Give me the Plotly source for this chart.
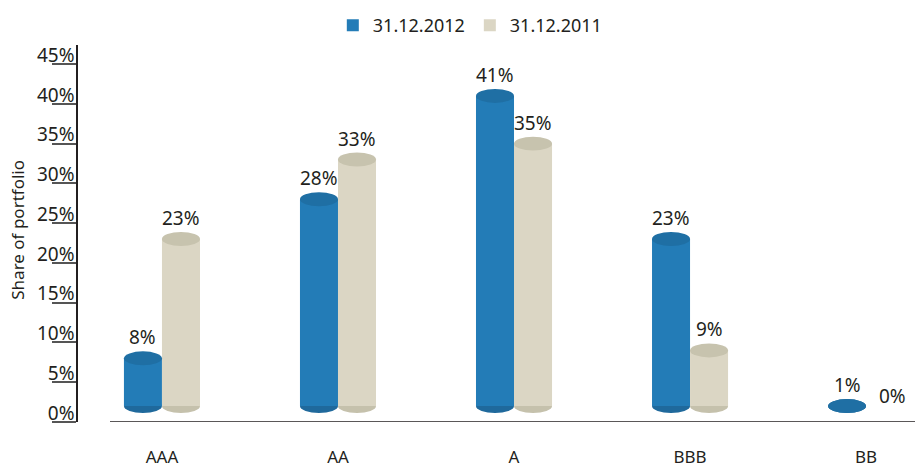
import plotly.graph_objects as go

categories = ["AAA", "AA", "A", "BBB", "BB"]
series_names = ["31.12.2012", "31.12.2011"]
values_2012 = [8, 28, 41, 23, 1]
values_2011 = [23, 33, 35, 9, 0]
y_tick_vals = [0, 5, 10, 15, 20, 25, 30, 35, 40, 45]
y_tick_text = [f"{v}%" for v in y_tick_vals]

body_colors = ["#237cb7", "#dbd6c4"]
top_colors = ["#1f6fa4", "#c7c3ae"]
bottom_colors = ["#1f699c", "#c5c1ac"]

FONT = "Noto Sans"
BAR_W = 0.216
BASE = 2.0
ELL_H = 1.76
Y_RANGE = [0, 47.4]
X_RANGE = [-0.477, 4.278]

fig = go.Figure()
shapes = []
annotations = []

for s, (name, vals) in enumerate(zip(series_names, [values_2012, values_2011])):
    offset = (-0.5 + s) * BAR_W
    xs = [i + offset for i in range(len(categories))]
    heights = [max(v - BASE, 0) for v in vals]
    fig.add_trace(go.Bar(
        x=xs, y=heights, base=[BASE] * len(vals), width=BAR_W,
        name=name, marker=dict(color=body_colors[s], line=dict(width=0)),
        hoverinfo="skip",
    ))
    for x, v in zip(xs, vals):
        if v > 0:
            top = max(v, BASE)
            shapes.append(dict(type="circle", xref="x", yref="y", layer="below",
                               x0=x - BAR_W / 2, x1=x + BAR_W / 2,
                               y0=BASE - ELL_H / 2, y1=BASE + ELL_H / 2,
                               fillcolor=bottom_colors[s], line=dict(width=0)))
            shapes.append(dict(type="circle", xref="x", yref="y", layer="above",
                               x0=x - BAR_W / 2, x1=x + BAR_W / 2,
                               y0=top - ELL_H / 2, y1=top + ELL_H / 2,
                               fillcolor=top_colors[s], line=dict(width=0)))
            annotations.append(dict(x=x, y=top + ELL_H / 2, xref="x", yref="y",
                                    text=f"{v}%", showarrow=False, yanchor="bottom",
                                    yshift=-1, font=dict(family=FONT, size=19, color="#231f20")))
        else:
            annotations.append(dict(x=x + 0.04, y=BASE - ELL_H / 2, xref="x", yref="y",
                                    text=f"{v}%", showarrow=False, yanchor="bottom",
                                    yshift=2, font=dict(family=FONT, size=19, color="#231f20")))

# x axis baseline
shapes.append(dict(type="line", xref="paper", yref="y", x0=(110 - 78) / 837, x1=1,
                   y0=0, y1=0, line=dict(color="#231f20", width=1.5), layer="above"))

# y axis title
annotations.append(dict(text="Share of portfolio", xref="paper", yref="paper",
                        x=-(78 - 18) / 837, y=0.51, xanchor="center", yanchor="middle",
                        textangle=-90, showarrow=False,
                        font=dict(family=FONT, size=17, color="#231f20")))

fig.update_layout(
    width=915, height=465,
    margin=dict(l=78, r=0, t=45, b=43, autoexpand=False),
    paper_bgcolor="white", plot_bgcolor="white",
    barmode="overlay",
    showlegend=True,
    legend=dict(orientation="h", x=0.514, xref="container", xanchor="center",
                y=0.985, yref="container", yanchor="top",
                font=dict(family=FONT, size=18, color="#231f20"),
                traceorder="normal"),
    shapes=shapes,
    annotations=annotations,
    font=dict(family=FONT, color="#231f20"),
)

fig.update_xaxes(
    range=X_RANGE, tickvals=list(range(len(categories))), ticktext=categories,
    showgrid=False, zeroline=False, showline=False, ticks="",
    tickfont=dict(family=FONT, size=17, color="#231f20"),
    ticklabelstandoff=23, automargin=False,
)
fig.update_yaxes(
    range=Y_RANGE, tickvals=y_tick_vals, ticktext=y_tick_text,
    showgrid=False, zeroline=False, showline=True, linecolor="#231f20", linewidth=1.5,
    ticks="outside", ticklen=24, tickwidth=1.5, tickcolor="#555555",
    ticklabelstandoff=-26, ticklabelshift=-9,
    tickfont=dict(family=FONT, size=19, color="#231f20"),
    automargin=False,
)

fig.write_html("out.html", config={"displayModeBar": False},
               post_script="document.body.style.margin='0';")
